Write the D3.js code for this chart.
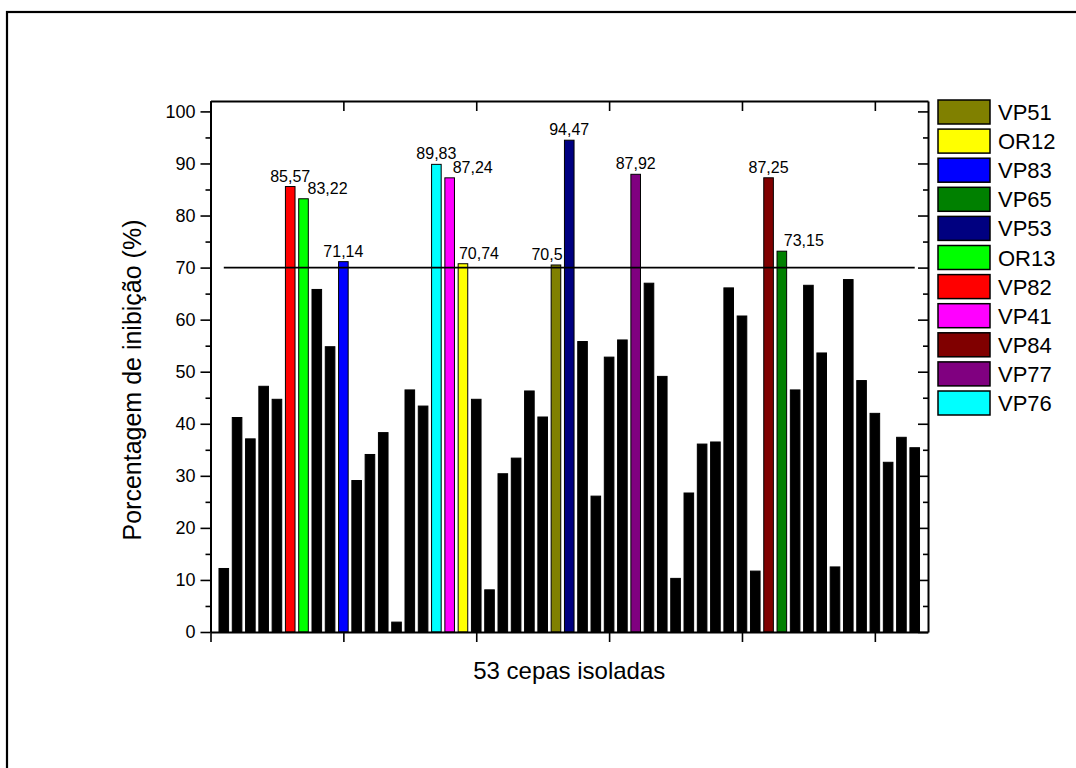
<!DOCTYPE html>
<html>
<head>
<meta charset="utf-8">
<script src="https://cdn.jsdelivr.net/npm/d3@7"></script>
<style>
  html, body { margin: 0; padding: 0; background: #fff; }
  svg { display: block; }
  text { font-family: "Liberation Sans", Arial, sans-serif; fill: #000; }
</style>
</head>
<body>
<svg id="chart" width="1076" height="768"></svg>
<script>
// ---- data ----
const values = [
  12.2, 41.2, 37.1, 47.2, 44.7, 85.57, 83.22, 65.8, 54.8, 71.14,
  29.1, 34.1, 38.3, 1.9, 46.5, 43.4, 89.83, 87.24, 70.74, 44.7,
  8.1, 30.4, 33.4, 46.3, 41.3, 70.5, 94.47, 55.8, 26.1, 52.8,
  56.1, 87.92, 67.0, 49.1, 10.3, 26.7, 36.1, 36.5, 66.1, 60.7,
  11.7, 87.25, 73.15, 46.5, 66.6, 53.6, 12.5, 67.7, 48.3, 42.0,
  32.6, 37.4, 35.4
];
// strain name for highlighted bars (by bar number, 1-based)
const highlighted = [
  { bar: 6,  name: "VP82", label: "85,57" },
  { bar: 7,  name: "OR13", label: "83,22" },
  { bar: 10, name: "VP83", label: "71,14" },
  { bar: 17, name: "VP76", label: "89,83" },
  { bar: 18, name: "VP41", label: "87,24" },
  { bar: 19, name: "OR12", label: "70,74" },
  { bar: 26, name: "VP51", label: "70,5" },
  { bar: 27, name: "VP53", label: "94,47" },
  { bar: 32, name: "VP77", label: "87,92" },
  { bar: 42, name: "VP84", label: "87,25" },
  { bar: 43, name: "VP65", label: "73,15" }
];
const legendNames = ["VP51", "OR12", "VP83", "VP65", "VP53", "OR13", "VP82", "VP41", "VP84", "VP77", "VP76"];
const legendColors = ["#808000", "#FFFF00", "#0000FF", "#008000", "#000080", "#00FF00", "#FF0000", "#FF00FF", "#800000", "#800080", "#00FFFF"];
const yTicks = [0, 10, 20, 30, 40, 50, 60, 70, 80, 90, 100];
const yMinorTicks = [5, 15, 25, 35, 45, 55, 65, 75, 85, 95];
const xTicks = [0, 10, 20, 30, 40, 50];
const threshold = 70;
const xTitle = "53 cepas isoladas";
const yTitle = "Porcentagem de inibição (%)";

// ---- layout (styles) ----
const labelNudge = { "OR13": 24, "VP41": 23, "OR12": 16, "VP51": -9, "VP65": 22 };
const colorOf = new Map(legendNames.map((n, i) => [n, legendColors[i]]));
const hiByBar = new Map(highlighted.map(h => [h.bar, h]));

const svg = d3.select("#chart");

// outer frame
svg.append("rect")
  .attr("x", 7).attr("y", 12).attr("width", 1120).attr("height", 820)
  .attr("fill", "none").attr("stroke", "#000").attr("stroke-width", 2.2);

const x = d3.scaleLinear().domain([0, 54]).range([210.5, 928]);
const y = d3.scaleLinear().domain([0, 102]).range([632, 101]);
const barW = 9.6;

const bars = values.map((v, i) => ({ n: i + 1, v }));

// bars
svg.append("g").selectAll("rect").data(bars).join("rect")
  .attr("x", d => x(d.n) - barW / 2)
  .attr("y", d => y(d.v))
  .attr("width", barW)
  .attr("height", d => y(0) - y(d.v))
  .attr("fill", d => hiByBar.has(d.n) ? colorOf.get(hiByBar.get(d.n).name) : "#000")
  .attr("stroke", "#000")
  .attr("stroke-width", 1);

// threshold line
svg.append("line")
  .attr("x1", x(1)).attr("x2", x(53))
  .attr("y1", y(threshold)).attr("y2", y(threshold))
  .attr("stroke", "#000").attr("stroke-width", 1.6);

// value labels
svg.append("g").selectAll("text").data(highlighted).join("text")
  .attr("x", d => x(d.bar) + (labelNudge[d.name] || 0))
  .attr("y", d => y(values[d.bar - 1]) - 5)
  .attr("text-anchor", "middle")
  .attr("font-size", 16)
  .text(d => d.label);

// axes
function styleAxis(g) {
  g.select(".domain").attr("stroke-width", 2);
  g.selectAll(".tick line").attr("stroke-width", 1.6);
}
// left
svg.append("g").attr("transform", `translate(${x(0)},0)`)
  .call(d3.axisLeft(y).tickValues(yTicks).tickSize(10).tickSizeOuter(0).tickPadding(5).tickFormat(d3.format("d")))
  .call(styleAxis)
  .call(g => g.selectAll(".tick text").attr("font-size", 18).attr("font-family", "Liberation Sans, Arial, sans-serif").attr("fill", "#000"));
svg.append("g").attr("transform", `translate(${x(0)},0)`)
  .call(d3.axisLeft(y).tickValues(yMinorTicks).tickSize(5).tickSizeOuter(0).tickFormat(""))
  .call(styleAxis).call(g => g.select(".domain").remove());
// right (ticks inward)
svg.append("g").attr("transform", `translate(${x(54)},0)`)
  .call(d3.axisLeft(y).tickValues(yTicks).tickSize(10).tickSizeOuter(0).tickFormat(""))
  .call(styleAxis);
svg.append("g").attr("transform", `translate(${x(54)},0)`)
  .call(d3.axisLeft(y).tickValues(yMinorTicks).tickSize(5).tickSizeOuter(0).tickFormat(""))
  .call(styleAxis).call(g => g.select(".domain").remove());
// bottom
svg.append("g").attr("transform", `translate(0,${y(0)})`)
  .call(d3.axisBottom(x).tickValues(xTicks).tickSize(10).tickSizeOuter(0).tickFormat(""))
  .call(styleAxis);
// top (ticks inward)
svg.append("g").attr("transform", `translate(0,${y(102)})`)
  .call(d3.axisBottom(x).tickValues(xTicks).tickSize(10).tickSizeOuter(0).tickFormat(""))
  .call(styleAxis);

// axis titles
svg.append("text")
  .attr("x", (x(0) + x(54)) / 2).attr("y", 679)
  .attr("text-anchor", "middle").attr("font-size", 24)
  .text(xTitle);
svg.append("text")
  .attr("transform", `translate(141,380) rotate(-90)`)
  .attr("text-anchor", "middle").attr("font-size", 25)
  .text(yTitle);

// legend
const lg = svg.append("g").attr("transform", "translate(938,100)");
const items = lg.selectAll("g").data(legendNames).join("g")
  .attr("transform", (d, i) => `translate(0,${i * 29.1})`);
items.append("rect")
  .attr("width", 52).attr("height", 24)
  .attr("fill", (d, i) => legendColors[i])
  .attr("stroke", "#000").attr("stroke-width", 1.5);
items.append("text")
  .attr("x", 60).attr("y", 20)
  .attr("font-size", 22)
  .text(d => d);
</script>
</body>
</html>
